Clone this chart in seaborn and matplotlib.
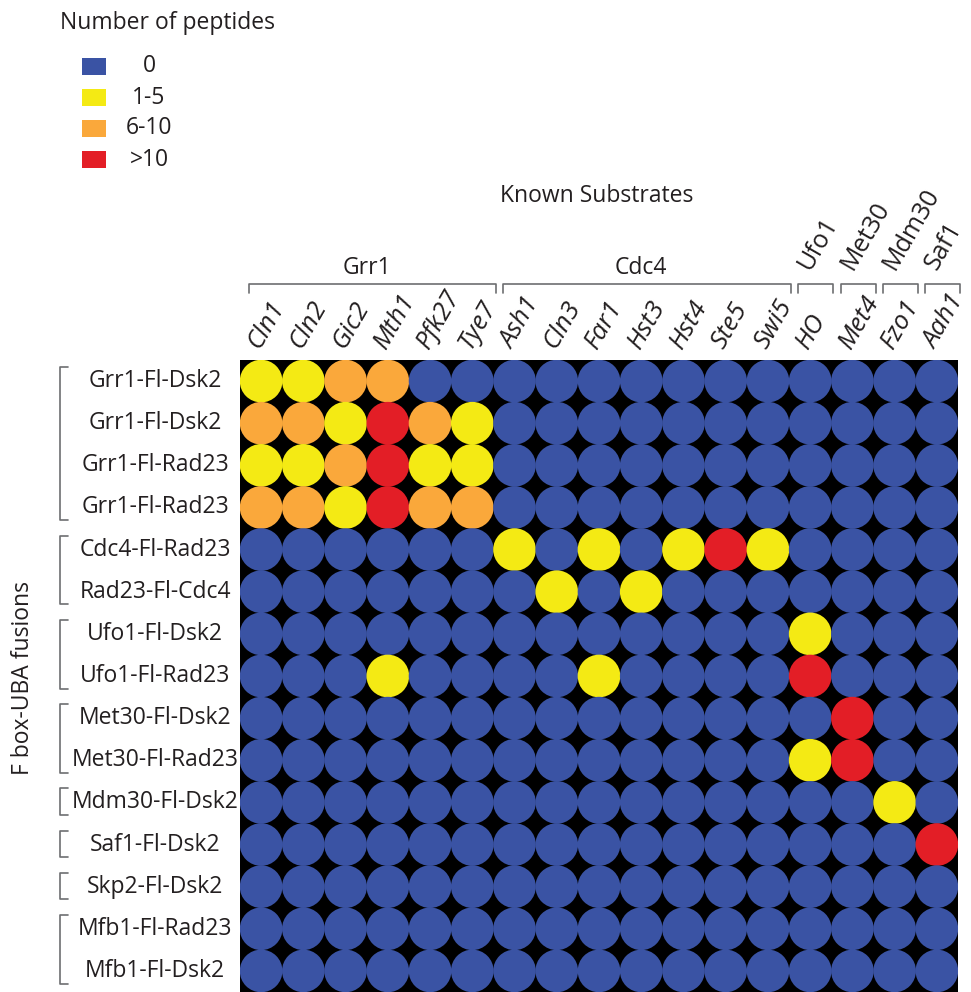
import numpy as np
import pandas as pd
import matplotlib
matplotlib.use('Agg')
import matplotlib.pyplot as plt
import matplotlib.transforms as mtransforms
from matplotlib.patches import Rectangle
import seaborn as sns

# ---- data ----
substrates = ['Cln1', 'Cln2', 'Gic2', 'Mth1', 'Pfk27', 'Tye7', 'Ash1', 'Cln3', 'Far1',
              'Hst3', 'Hst4', 'Ste5', 'Swi5', 'HO', 'Met4', 'Fzo1', 'Aah1']
fusions = ['Grr1-Fl-Dsk2', 'Grr1-Fl-Dsk2', 'Grr1-Fl-Rad23', 'Grr1-Fl-Rad23',
           'Cdc4-Fl-Rad23', 'Rad23-Fl-Cdc4', 'Ufo1-Fl-Dsk2', 'Ufo1-Fl-Rad23',
           'Met30-Fl-Dsk2', 'Met30-Fl-Rad23', 'Mdm30-Fl-Dsk2', 'Saf1-Fl-Dsk2',
           'Skp2-Fl-Dsk2', 'Mfb1-Fl-Rad23', 'Mfb1-Fl-Dsk2']
# peptide class per cell: 0 -> 0, 1 -> 1-5, 2 -> 6-10, 3 -> >10
peptides = [
    [1, 1, 2, 2, 0, 0, 0, 0, 0, 0, 0, 0, 0, 0, 0, 0, 0],
    [2, 2, 1, 3, 2, 1, 0, 0, 0, 0, 0, 0, 0, 0, 0, 0, 0],
    [1, 1, 2, 3, 1, 1, 0, 0, 0, 0, 0, 0, 0, 0, 0, 0, 0],
    [2, 2, 1, 3, 2, 2, 0, 0, 0, 0, 0, 0, 0, 0, 0, 0, 0],
    [0, 0, 0, 0, 0, 0, 1, 0, 1, 0, 1, 3, 1, 0, 0, 0, 0],
    [0, 0, 0, 0, 0, 0, 0, 1, 0, 1, 0, 0, 0, 0, 0, 0, 0],
    [0, 0, 0, 0, 0, 0, 0, 0, 0, 0, 0, 0, 0, 1, 0, 0, 0],
    [0, 0, 0, 1, 0, 0, 0, 0, 1, 0, 0, 0, 0, 3, 0, 0, 0],
    [0, 0, 0, 0, 0, 0, 0, 0, 0, 0, 0, 0, 0, 0, 3, 0, 0],
    [0, 0, 0, 0, 0, 0, 0, 0, 0, 0, 0, 0, 0, 1, 3, 0, 0],
    [0, 0, 0, 0, 0, 0, 0, 0, 0, 0, 0, 0, 0, 0, 0, 1, 0],
    [0, 0, 0, 0, 0, 0, 0, 0, 0, 0, 0, 0, 0, 0, 0, 0, 3],
    [0, 0, 0, 0, 0, 0, 0, 0, 0, 0, 0, 0, 0, 0, 0, 0, 0],
    [0, 0, 0, 0, 0, 0, 0, 0, 0, 0, 0, 0, 0, 0, 0, 0, 0],
    [0, 0, 0, 0, 0, 0, 0, 0, 0, 0, 0, 0, 0, 0, 0, 0, 0],
]
levels = ['0', '1-5', '6-10', '>10']
level_colors = ['#3a53a4', '#f4ea14', '#faa83b', '#e31e26']

# column groups (F box protein -> substrate columns), row groups (brackets)
col_groups = ['Grr1', 'Cdc4', 'Ufo1', 'Met30', 'Mdm30', 'Saf1']
col_group_sizes = [6, 7, 1, 1, 1, 1]
row_group_sizes = [4, 2, 2, 2, 1, 1, 1, 2]

# ---- style ----
sns.set_style('white')
plt.rcParams['font.family'] = ['Open Sans', 'DejaVu Sans']
TXT = '#231f20'
BR = '#6d6e71'
FS = 16.5
FS_COL = 18.5

W, H = 971, 992
fig = plt.figure(figsize=(W / 100, H / 100), dpi=100)
ax = fig.add_axes([240 / W, 0, 718 / W, 632 / H])

rows, cols = np.indices(np.array(peptides).shape)
df = pd.DataFrame({
    'col': cols.ravel(),
    'row': rows.ravel(),
    'level': [levels[v] for v in np.array(peptides).ravel()],
})

cell_pt = 718 / len(substrates) * 0.72
sns.scatterplot(data=df, x='col', y='row', hue='level', hue_order=levels,
                palette=dict(zip(levels, level_colors)), s=(cell_pt * 1.01) ** 2,
                marker='o', linewidth=0, legend=False, ax=ax)
ax.set_facecolor('black')
ax.set_xlim(-0.5, len(substrates) - 0.5)
ax.set_ylim(len(fusions) - 0.5, -0.5)
ax.set_xticks([])
ax.set_yticks([])
ax.set_xlabel('')
ax.set_ylabel('')
for sp in ax.spines.values():
    sp.set_visible(False)

# row labels and brackets
tr_row = mtransforms.blended_transform_factory(fig.transFigure, ax.transData)
for i, name in enumerate(fusions):
    ax.text(155 / W, i, name, transform=tr_row, ha='center', va='center',
            fontsize=FS, color=TXT, clip_on=False)
start = 0
for n in row_group_sizes:
    y0, y1 = start - 0.5 + 0.17, start + n - 0.5 - 0.2
    ax.plot([68 / W, 60 / W, 60 / W, 68 / W], [y0, y0, y1, y1], transform=tr_row,
            color=BR, lw=1.2, clip_on=False)
    start += n

fig.text(23 / W, 1 - 678 / H, 'F box-UBA fusions', rotation=90, ha='center',
         va='center', fontsize=FS, color=TXT)

# column labels
tr_col = mtransforms.blended_transform_factory(ax.transData, fig.transFigure)
for j, name in enumerate(substrates):
    ax.text(j + 0.08, 1 - 353 / H, name, transform=tr_col, rotation=60,
            rotation_mode='anchor', ha='left', va='bottom', fontsize=FS_COL,
            style='italic', color=TXT, clip_on=False)

# column group brackets
yb_top, yb_bot = 1 - 284 / H, 1 - 293 / H
start = 0
for name, n in zip(col_groups, col_group_sizes):
    x0, x1 = start - 0.5 + 0.22, start + n - 0.5 + 0.05
    ax.plot([x0, x0, x1, x1], [yb_bot, yb_top, yb_top, yb_bot], transform=tr_col,
            color=BR, lw=1.2, clip_on=False)
    if n > 1:
        ax.text(start + (n - 1) / 2, 1 - 268 / H, name, transform=tr_col,
                ha='center', va='center', fontsize=FS, color=TXT, clip_on=False)
    else:
        ax.text(start + 0.12, 1 - 274 / H, name, transform=tr_col, rotation=60,
                rotation_mode='anchor', ha='left', va='bottom', fontsize=FS_COL - 0.5,
                color=TXT, clip_on=False)
    start += n

fig.text(597 / W, 1 - 196 / H, 'Known Substrates', ha='center', va='center',
         fontsize=FS, color=TXT)

# legend
fig.text(60 / W, 1 - 29 / H, 'Number of peptides', ha='left', va='baseline',
         fontsize=FS, color=TXT)
for k, (lab, c) in enumerate(zip(levels, level_colors)):
    yc = 66.5 + k * 31
    fig.add_artist(Rectangle((82 / W, 1 - (yc + 8.5) / H), 24 / W, 17 / H,
                             transform=fig.transFigure, facecolor=c, edgecolor='none'))
    fig.text(149 / W, 1 - yc / H, lab, ha='center', va='center', fontsize=FS,
             color=TXT)

fig.savefig('out.png', dpi=100)
